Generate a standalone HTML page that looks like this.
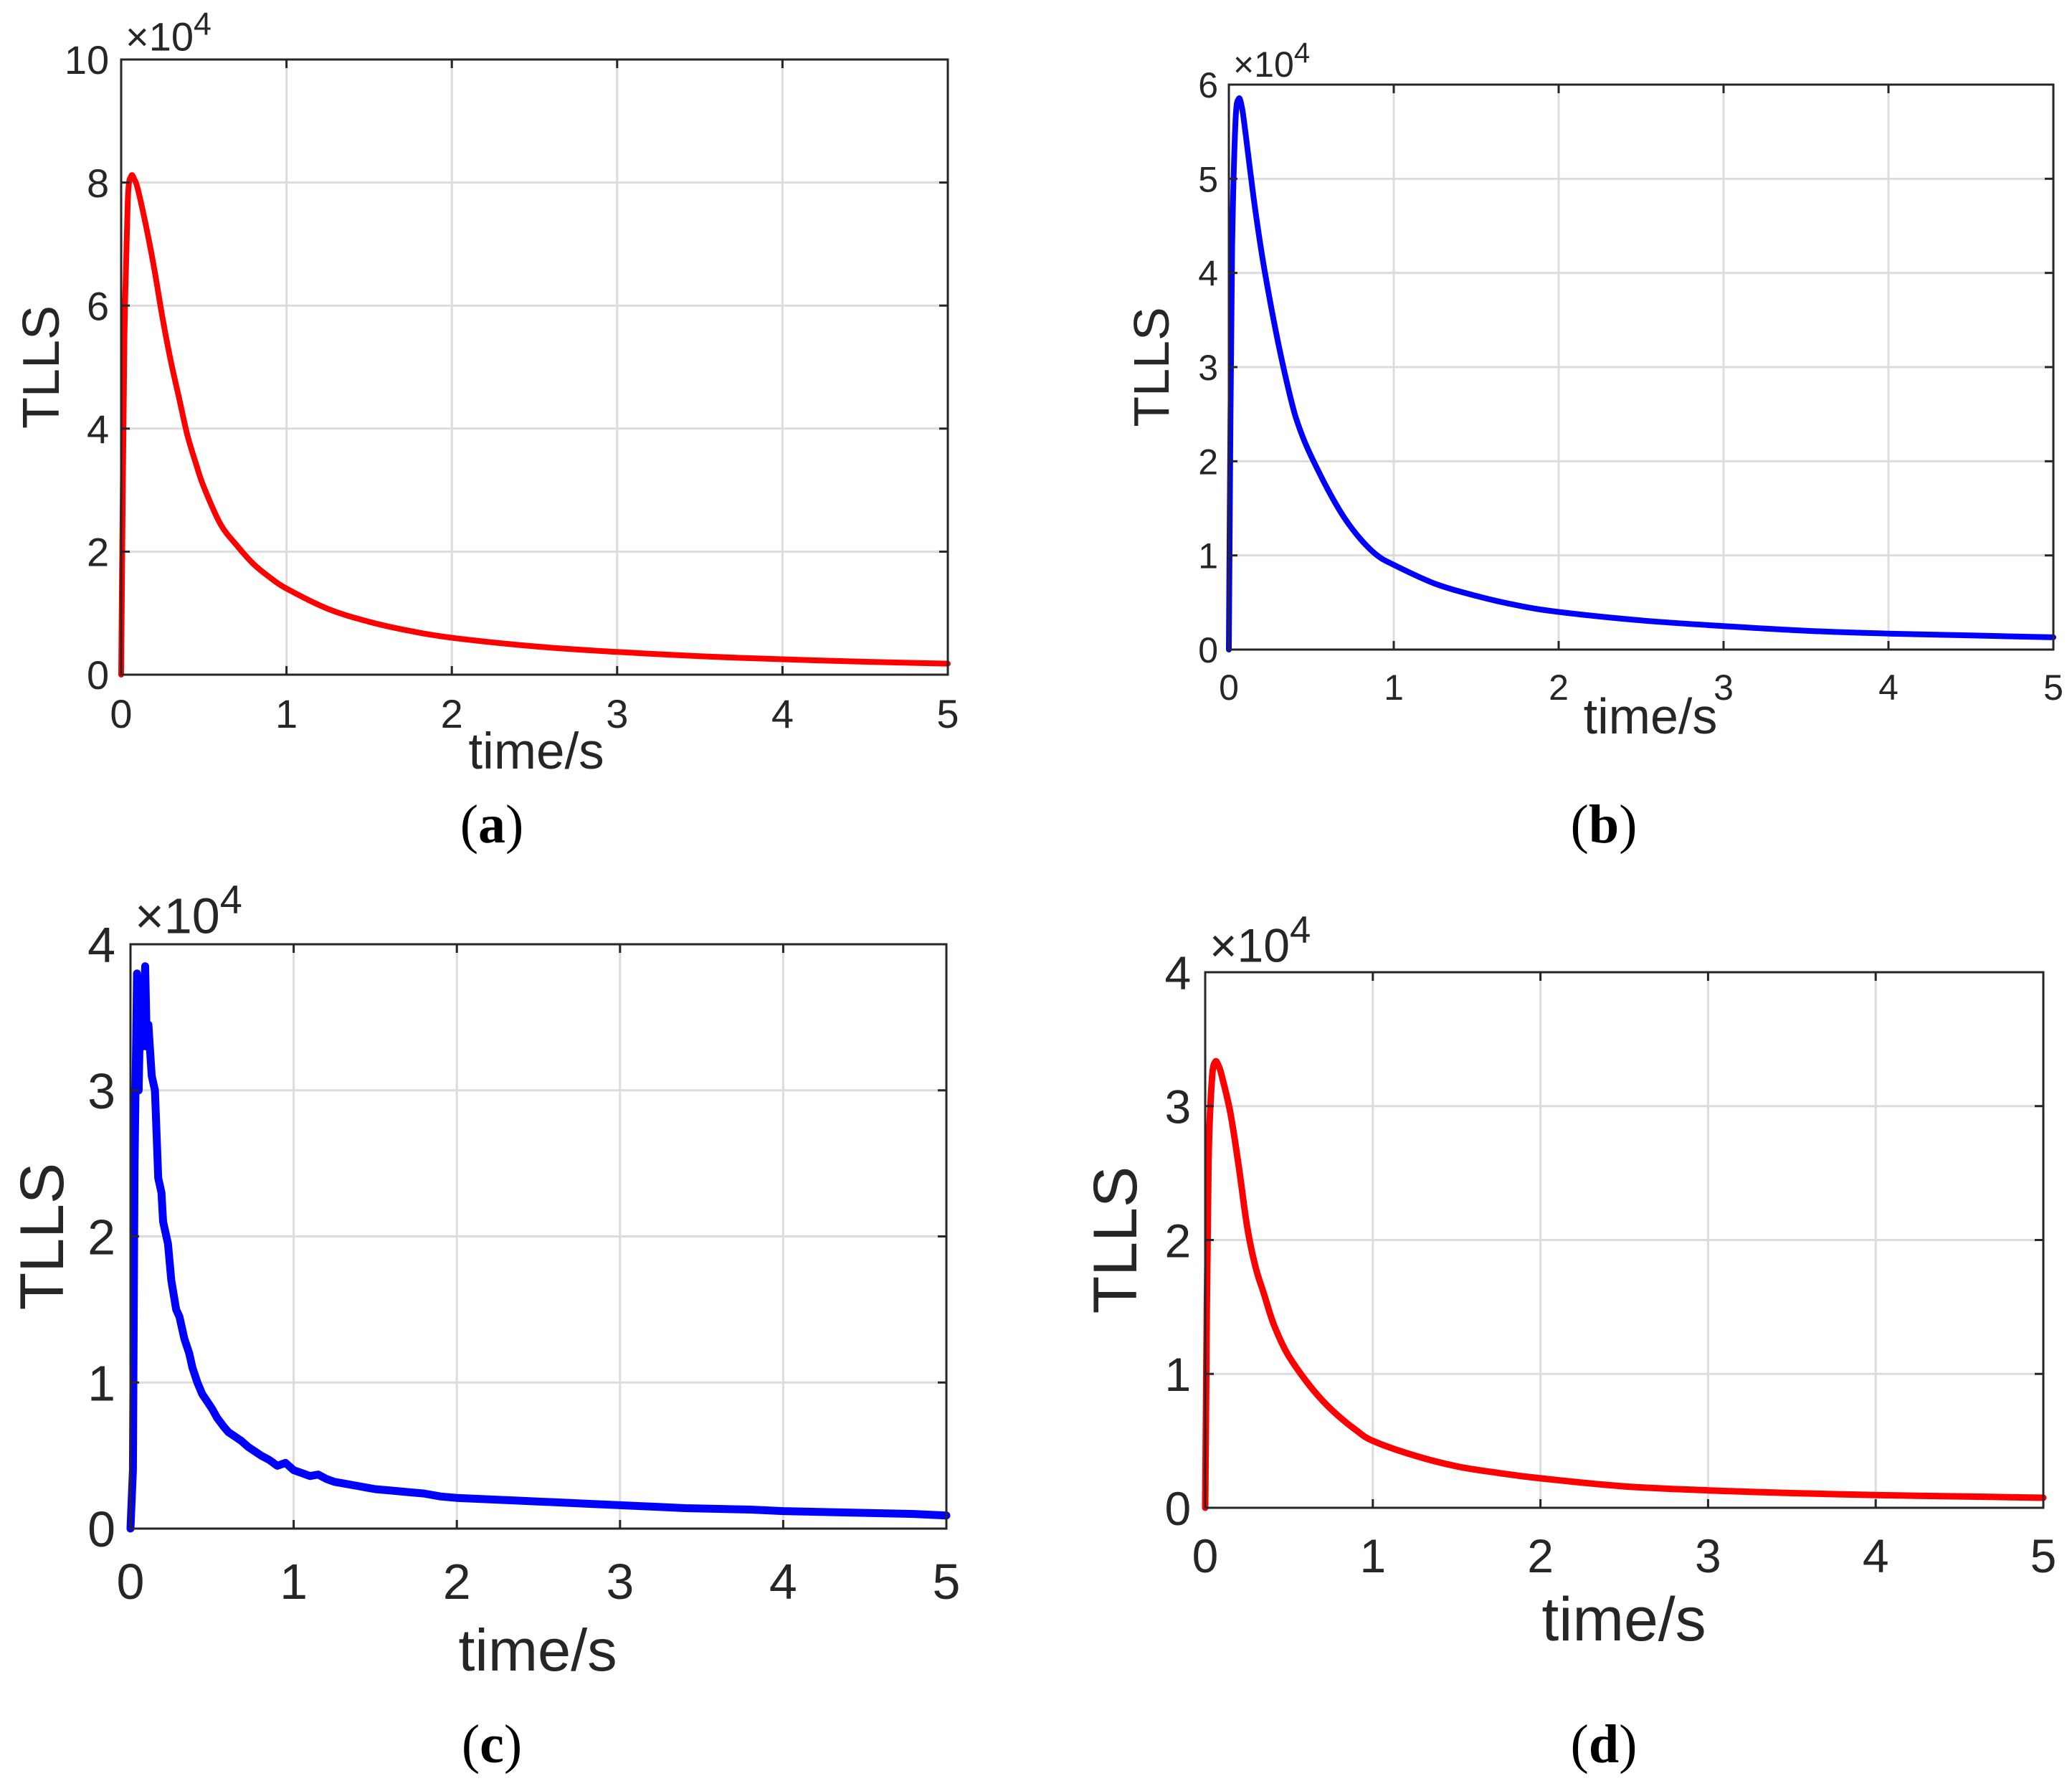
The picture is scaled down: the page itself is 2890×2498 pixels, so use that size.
<!DOCTYPE html>
<html><head><meta charset="utf-8"><style>
html,body{margin:0;padding:0;background:#fff;}
svg{display:block;}
text{font-family:"Liberation Sans",Arial,sans-serif;fill:#262626;}
.cap{font-family:"Liberation Serif",serif;fill:#000;}
</style></head><body>
<svg id="fig" width="2890" height="2498" viewBox="0 0 2890 2498" xmlns="http://www.w3.org/2000/svg"></svg>
<script>
// shared x ticks
const xTicks = [0,1,2,3,4,5];
// panel (a)
const timesA = [0,0.01,0.02,0.04,0.06,0.08,0.1,0.15,0.2,0.25,0.3,0.35,0.4,0.45,0.5,0.6,0.7,0.8,0.9,1,1.25,1.5,1.75,2,2.5,3,3.5,4,4.5,5];
const valuesA = [0,3.0,5.5,7.7,8.1,8.05,7.9,7.3,6.6,5.8,5.1,4.5,3.9,3.45,3.05,2.45,2.1,1.8,1.58,1.4,1.07,0.86,0.71,0.6,0.46,0.37,0.3,0.25,0.21,0.18];
const yTicksA = [0,2,4,6,8,10];
// panel (b)
const timesB = [0,0.01,0.02,0.04,0.06,0.08,0.1,0.15,0.2,0.25,0.3,0.35,0.4,0.45,0.5,0.6,0.7,0.8,0.9,1,1.25,1.5,1.75,2,2.5,3,3.5,4,4.5,5];
const valuesB = [0,2.5,4.3,5.6,5.85,5.75,5.5,4.8,4.2,3.7,3.25,2.85,2.5,2.25,2.05,1.7,1.4,1.17,1.0,0.9,0.7,0.57,0.47,0.4,0.31,0.25,0.2,0.17,0.15,0.13];
const yTicksB = [0,1,2,3,4,5,6];
// panel (c) (noisy)
const timesC = [0,0.015,0.025,0.04,0.05,0.06,0.075,0.09,0.1,0.11,0.13,0.15,0.17,0.19,0.2,0.23,0.25,0.28,0.3,0.33,0.36,0.38,0.41,0.44,0.47,0.5,0.53,0.57,0.6,0.64,0.68,0.72,0.76,0.8,0.85,0.9,0.95,1,1.05,1.1,1.15,1.2,1.25,1.3,1.4,1.5,1.6,1.7,1.8,1.9,2,2.2,2.4,2.6,2.8,3,3.2,3.4,3.6,3.8,4,4.2,4.4,4.6,4.8,5];
const valuesC = [0,0.4,2.5,3.8,3.0,3.6,3.3,3.85,3.3,3.45,3.1,3.0,2.4,2.3,2.1,1.95,1.7,1.5,1.45,1.3,1.2,1.1,1.0,0.92,0.87,0.82,0.76,0.7,0.66,0.63,0.6,0.56,0.53,0.5,0.47,0.43,0.45,0.4,0.38,0.36,0.37,0.34,0.32,0.31,0.29,0.27,0.26,0.25,0.24,0.22,0.21,0.2,0.19,0.18,0.17,0.16,0.15,0.14,0.135,0.13,0.12,0.115,0.11,0.105,0.1,0.09];
const yTicksC = [0,1,2,3,4];
// panel (d)
const timesD = [0,0.01,0.02,0.04,0.06,0.08,0.1,0.15,0.2,0.25,0.3,0.35,0.4,0.45,0.5,0.6,0.7,0.8,0.9,1,1.25,1.5,1.75,2,2.5,3,3.5,4,4.5,5];
const valuesD = [0,1.5,2.6,3.2,3.33,3.3,3.22,2.95,2.55,2.1,1.8,1.6,1.4,1.25,1.13,0.95,0.8,0.68,0.58,0.5,0.39,0.31,0.26,0.22,0.16,0.13,0.11,0.095,0.085,0.075];
const yTicksD = [0,1,2,3,4];

const NS = "http://www.w3.org/2000/svg";
const svg = document.getElementById('fig');
function mk(tag, attrs, parent){
  const e = document.createElementNS(NS, tag);
  for (const k in attrs) e.setAttribute(k, attrs[k]);
  (parent||svg).appendChild(e);
  return e;
}
function smoothPath(pts){
  let d = 'M' + pts[0][0].toFixed(1) + ',' + pts[0][1].toFixed(1);
  for (let i = 0; i < pts.length - 1; i++){
    const p0 = pts[Math.max(0,i-1)], p1 = pts[i], p2 = pts[i+1], p3 = pts[Math.min(pts.length-1,i+2)];
    const c1x = p1[0] + (p2[0]-p0[0])/6, c1y = p1[1] + (p2[1]-p0[1])/6;
    const c2x = p2[0] - (p3[0]-p1[0])/6, c2y = p2[1] - (p3[1]-p1[1])/6;
    d += ' C' + c1x.toFixed(1) + ',' + c1y.toFixed(1) + ' ' + c2x.toFixed(1) + ',' + c2y.toFixed(1) + ' ' + p2[0].toFixed(1) + ',' + p2[1].toFixed(1);
  }
  return d;
}
function panel(id, box, times, values, yTicks, color, lw, fs, smooth){
  const g = mk('g', {});
  
  
  const ymax = yTicks[yTicks.length-1];
  const sx = v => box.l + (v - 0) / 5 * (box.r - box.l);
  const sy = v => box.b - v / ymax * (box.b - box.t);
  xTicks.forEach(t => {
    const l = mk('line', {x1:sx(t),x2:sx(t),y1:box.t,y2:box.b,stroke:'#dcdcdc','stroke-width':3}, g);
    
    
  });
  yTicks.forEach(t => {
    const l = mk('line', {x1:box.l,x2:box.r,y1:sy(t),y2:sy(t),stroke:'#dcdcdc','stroke-width':3}, g);
    
    
  });
  const pts = times.map((t,i) => [sx(t), sy(values[i])]);
  const d = smooth ? smoothPath(pts) : pts.map((p,i) => (i?'L':'M') + p[0].toFixed(1) + ',' + p[1].toFixed(1)).join(' ');
  const p = mk('path', {d:d, fill:'none', stroke:color, 'stroke-width':lw, 'stroke-linejoin':'round','stroke-linecap':'round'}, g);
  
  
  const r = mk('rect', {x:box.l,y:box.t,width:box.r-box.l,height:box.b-box.t,fill:'none',stroke:'#262626','stroke-width':3}, g);
  
  
  xTicks.forEach(t => {
    mk('line', {x1:sx(t),x2:sx(t),y1:box.b,y2:box.b-12,stroke:'#262626','stroke-width':3}, g);
    mk('line', {x1:sx(t),x2:sx(t),y1:box.t,y2:box.t+12,stroke:'#262626','stroke-width':3}, g);
    const tx = mk('text', {x:sx(t), y:box.b + box.xto, 'font-size':fs, 'text-anchor':'middle'}, g);
    tx.textContent = t;
    
    
  });
  yTicks.forEach(t => {
    mk('line', {x1:box.l,x2:box.l+12,y1:sy(t),y2:sy(t),stroke:'#262626','stroke-width':3}, g);
    mk('line', {x1:box.r,x2:box.r-12,y1:sy(t),y2:sy(t),stroke:'#262626','stroke-width':3}, g);
    const tx = mk('text', {x:box.l - fs*0.3, y:sy(t) + fs*0.36, 'font-size':fs, 'text-anchor':'end'}, g);
    tx.textContent = t;
    
    
  });
  const ex = mk('text', {x:box.l + 6, y:box.t - fs*0.22, 'font-size':fs}, g);
  ex.innerHTML = '×10<tspan dy="-' + (fs*0.4) + '" font-size="' + (fs*0.8) + '">4</tspan>';
  
  
  const xl = mk('text', {x:box.xlx, y:box.xly, 'font-size':box.lfs, 'text-anchor':'middle'}, g);
  xl.textContent = 'time/s';
  
  
  const yl = mk('text', {x:0, y:0, 'font-size':box.yfs, 'text-anchor':'middle', transform:'translate(' + box.ylx + ',' + ((box.t+box.b)/2) + ') rotate(-90)'}, g);
  yl.textContent = 'TLLS';
  
  
  const cp = mk('text', {x:box.cx, y:box.cy, 'font-size':76, 'text-anchor':'middle', 'class':'cap'}, g);
  cp.innerHTML = '(<tspan font-weight="bold">' + id + '</tspan>)';
  
  
}
panel('a', {l:169,r:1322,t:83,b:941,xto:74,xlx:748,xly:1072,lfs:71,ylx:82,yfs:72,cx:686,cy:1175}, timesA, valuesA, yTicksA, '#ff0000', 8, 56, true);
panel('b', {l:1714,r:2864,t:118,b:906,xto:70,xlx:2302,xly:1023,lfs:70,ylx:1630,yfs:70,cx:2237,cy:1175}, timesB, valuesB, yTicksB, '#0000ff', 8, 50, true);
panel('c', {l:182,r:1320,t:1317,b:2132,xto:98,xlx:750,xly:2330,lfs:83,ylx:88,yfs:86,cx:686,cy:2458}, timesC, valuesC, yTicksC, '#0000ff', 11, 70, false);
panel('d', {l:1681,r:2850,t:1356,b:2103,xto:90,xlx:2265,xly:2288,lfs:86,ylx:1585,yfs:86,cx:2237,cy:2458}, timesD, valuesD, yTicksD, '#ff0000', 9, 66, true);
</script>
</body></html>
